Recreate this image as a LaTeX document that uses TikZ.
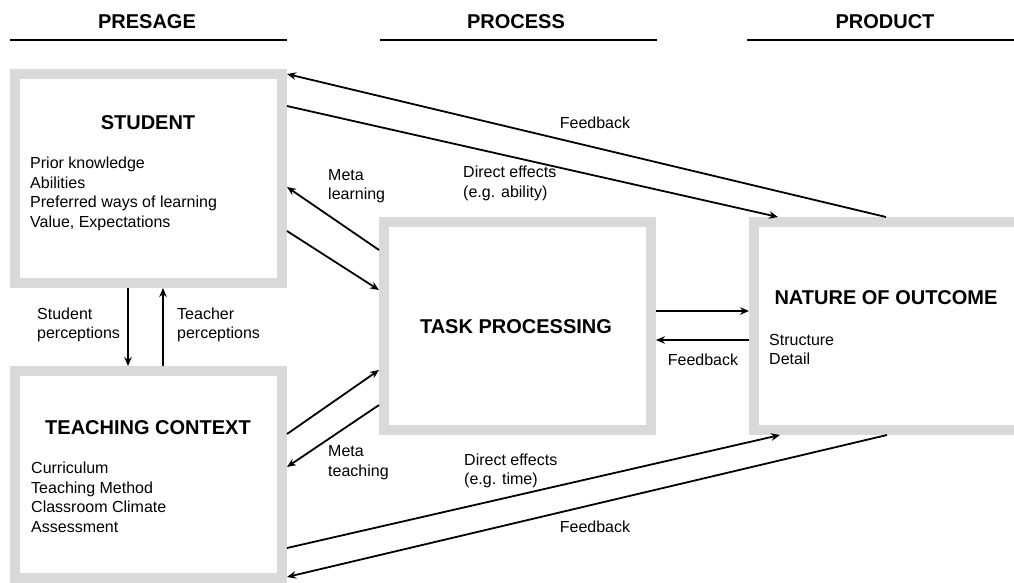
\documentclass[tikz,border=0pt]{standalone}
\usepackage{fontspec}
\setmainfont{Liberation Sans}
\usetikzlibrary{arrows.meta}
\definecolor{boxgray}{HTML}{D9D9D9}
\begin{document}
\begin{tikzpicture}[x=1pt,y=-1pt,
  panel/.style={draw=boxgray,line width=10pt,rectangle,inner sep=0pt,outer sep=5pt},
  heading/.style={font=\fontsize{20}{24}\selectfont\bfseries},
  lbl/.style={font=\fontsize{16}{19.5}\selectfont,align=left,inner sep=0pt},
  conn/.style={line width=1.8pt,-{Stealth[length=9pt,width=7.5pt]}},
  rule/.style={line width=2pt}]
\useasboundingbox (0,0) rectangle (1014,582);
\begin{scope}
\clip (0,0) rectangle (1014,582);
% column headings
\node[heading] (hpre) at (147,22) {PRESAGE};
\node[heading] (hproc) at (516,22) {PROCESS};
\node[heading] (hprod) at (885,22) {PRODUCT};
\coordinate (r1a) at (10,40); \coordinate (r1b) at (287,40);
\coordinate (r2a) at (380,40); \coordinate (r2b) at (657,40);
\coordinate (r3a) at (747,40); \coordinate (r3b) at (1014,40);
\draw[rule] (r1a) -- (r1b);
\draw[rule] (r2a) -- (r2b);
\draw[rule] (r3a) -- (r3b);

% the four boxes
\node[panel,minimum width=267pt,minimum height=209pt] (student) at (148.5,178.5) {};
\node[panel,minimum width=267pt,minimum height=207pt] (teach) at (148.5,474.5) {};
\node[panel,minimum width=267pt,minimum height=208pt] (task) at (517.5,326) {};
\node[panel,minimum width=280pt,minimum height=208pt] (outcome) at (894,326) {};
\end{scope}

% box contents
\node[heading] (tstudent) at (148,123) {STUDENT};
\node[lbl,anchor=west] (istudent) at (30,194) {Prior knowledge\\Abilities\\Preferred ways of learning\\Value, Expectations};
\node[heading] (tteach) at (148,428) {TEACHING CONTEXT};
\node[lbl,anchor=west] (iteach) at (31,497.5) {Curriculum\\Teaching Method\\Classroom Climate\\Assessment};
\node[heading] (ttask) at (516,327) {TASK PROCESSING};
\node[heading] (toutcome) at (886,298) {NATURE OF OUTCOME};
\node[lbl,anchor=west] (ioutcome) at (769,349.5) {Structure\\Detail};

% connectors
\draw[conn] (outcome.north -| 886,0) -- (student.east |- 0,74);
\draw[conn] (student.east |- 0,106) -- (outcome.north -| 778,0);
\draw[conn] (task.west |- 0,250) -- (student.east |- 0,187);
\draw[conn] (student.east |- 0,231) -- (task.west |- 0,290);
\draw[conn] (student.south -| 128,0) -- (teach.north -| 128,0);
\draw[conn] (teach.north -| 163,0) -- (student.south -| 163,0);
\draw[conn] (teach.east |- 0,434) -- (task.west |- 0,370);
\draw[conn] (task.west |- 0,405) -- (teach.east |- 0,467);
\draw[conn] (task.east |- 0,311) -- (outcome.west |- 0,311);
\draw[conn] (outcome.west |- 0,340) -- (task.east |- 0,340);
\draw[conn] (teach.east |- 0,548) -- (outcome.south -| 780,0);
\draw[conn] (outcome.south -| 887,0) -- (teach.east |- 0,577);

% connector labels
\node[lbl] (lfbtop) at (595,123) {Feedback};
\node[lbl,anchor=west] (ldeab) at (463,183.5) {Direct effects\\(e.g. ability)};
\node[lbl,anchor=west] (lmetal) at (328,186) {Meta\\learning};
\node[lbl,anchor=west] (lsp) at (37,325) {Student\\perceptions};
\node[lbl,anchor=west] (ltp) at (177,325) {Teacher\\perceptions};
\node[lbl,anchor=west] (lmetat) at (328,462.5) {Meta\\teaching};
\node[lbl,anchor=west] (ldetime) at (464,471) {Direct effects\\(e.g. time)};
\node[lbl] (lfbbot) at (595,527) {Feedback};
\node[lbl] (lfbmid) at (703,360) {Feedback};
\end{tikzpicture}
\end{document}
